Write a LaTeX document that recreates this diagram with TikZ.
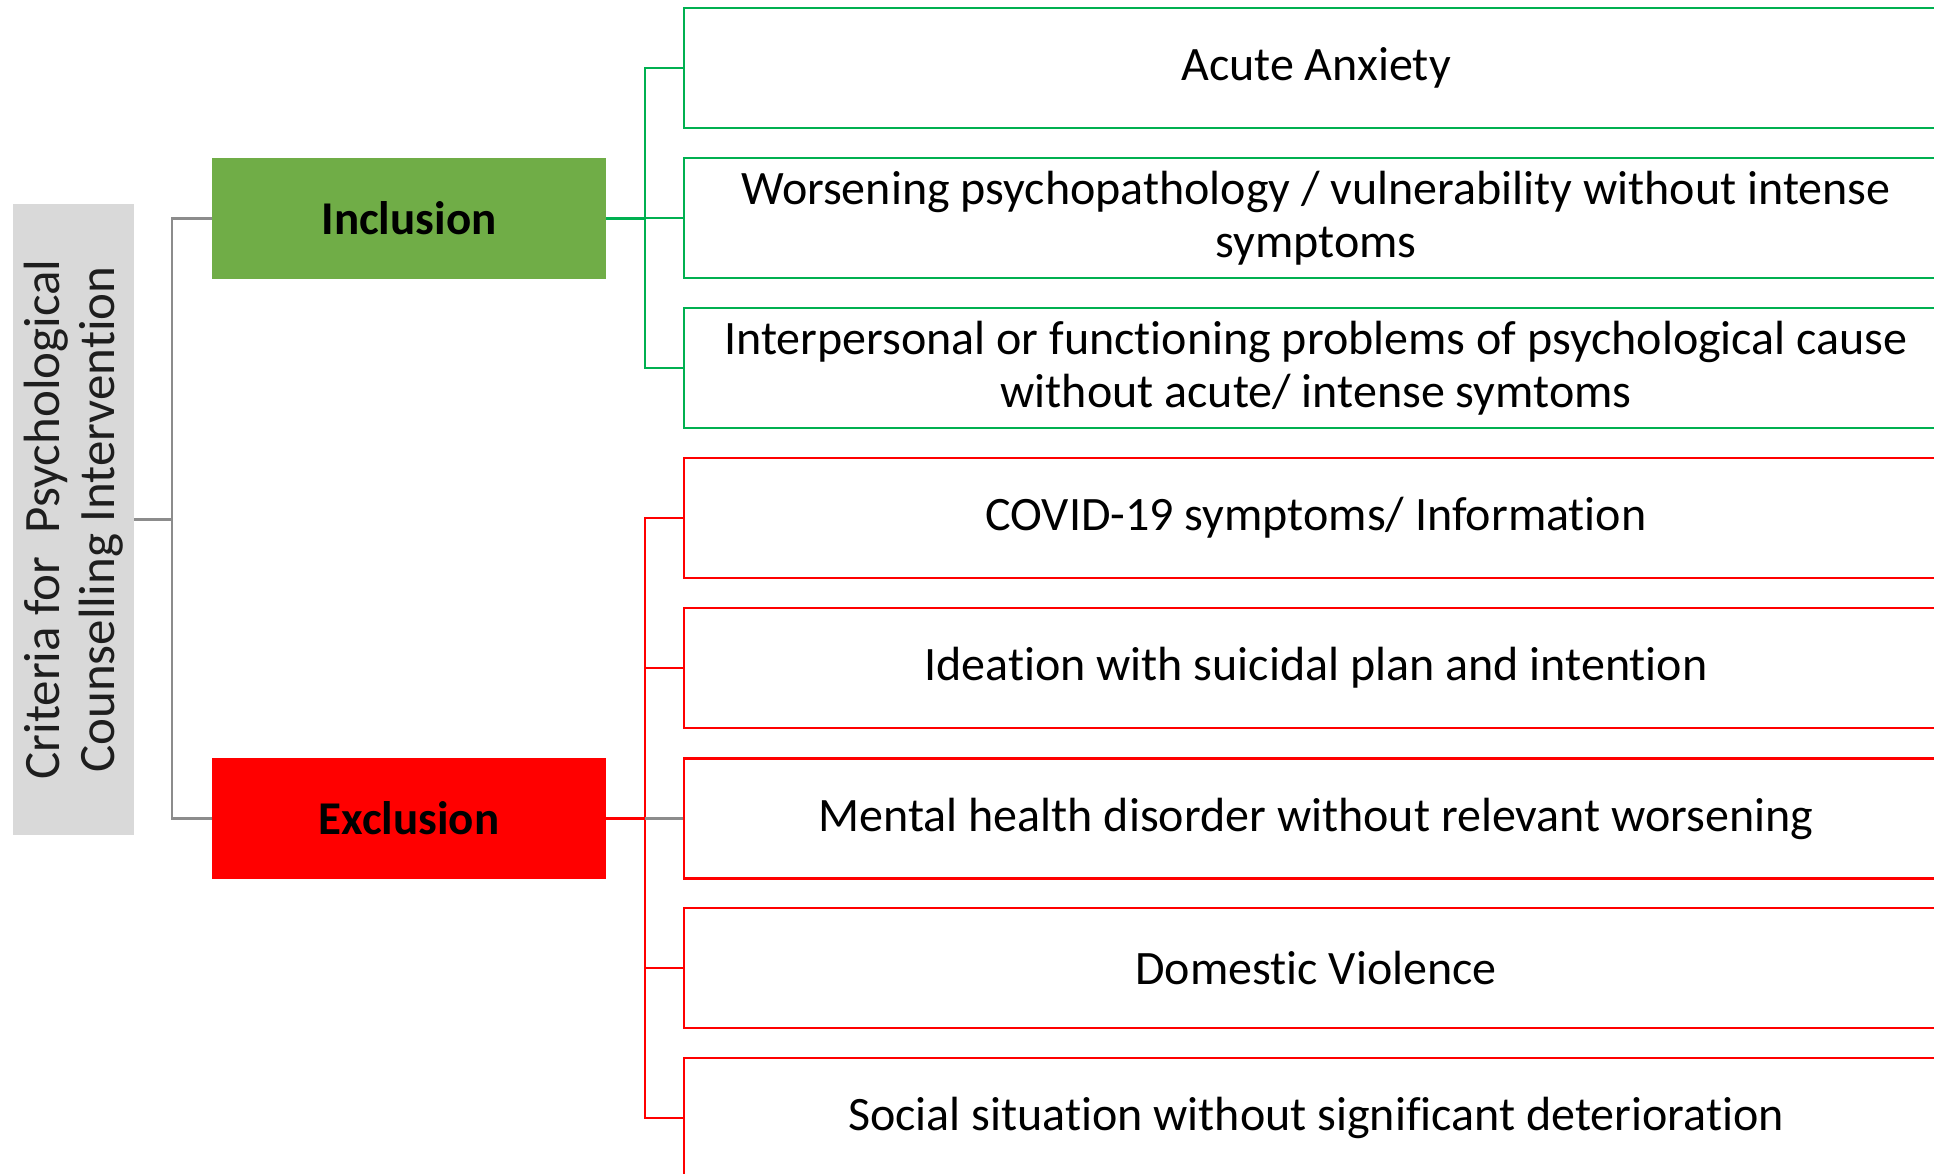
\documentclass[tikz,border=0pt]{standalone}
\usepackage{fontspec}
\setmainfont{Carlito}[Ligatures={NoCommon}]
\definecolor{critgray}{HTML}{D9D9D9}
\definecolor{crittext}{HTML}{1E1E1E}
\definecolor{linegray}{HTML}{8C8C8C}
\definecolor{incfill}{HTML}{70AD47}
\definecolor{incline}{HTML}{00B050}
\definecolor{excred}{HTML}{FF0000}
\begin{document}
\begin{tikzpicture}[x=1pt,y=-1pt,
  crit/.style={rotate=90, fill=critgray, text=crittext, minimum width=631pt, minimum height=121pt,
    align=center, inner sep=0pt, font=\fontsize{51}{55.5}\selectfont},
  catbox/.style={minimum width=394pt, minimum height=121pt, inner sep=0pt,
    font=\fontsize{47}{53}\selectfont\bfseries},
  itembox/.style={draw, line width=2.5pt, minimum width=1264pt, minimum height=120pt, inner sep=0pt,
    align=center, font=\fontsize{48}{53}\selectfont},
  incitem/.style={itembox, draw=incline},
  excitem/.style={itembox, draw=excred},
  grayline/.style={draw=linegray, line width=2.5pt},
  gline/.style={draw=incline, line width=2.5pt},
  rline/.style={draw=excred, line width=2.5pt}]
\useasboundingbox (0,0) rectangle (1934,1173);
\clip (0,0) rectangle (1934,1173);

\node[crit] (crit) at (73.5,519.5) {Criteria for\ \ Psychological\\Counselling Intervention};
\node[catbox, fill=incfill] (inc) at (409,218.5) {Inclusion};
\node[catbox, fill=excred] (exc) at (409,818.5) {Exclusion};

\node[incitem] (g1) at (1316,68) {Acute Anxiety};
\node[incitem] (g2) at (1316,218) {Worsening psychopathology / vulnerability without intense\\symptoms};
\node[incitem] (g3) at (1316,368) {Interpersonal or functioning problems of psychological cause\\without acute/ intense symtoms};

\node[excitem] (r1) at (1316,518) {COVID-19 symptoms/ Information};
\node[excitem] (r2) at (1316,668) {Ideation with suicidal plan and intention};
\node[excitem] (r3) at (1316,818.5) {Mental health disorder without relevant worsening};
\node[excitem] (r4) at (1316,968) {Domestic Violence};
\node[excitem] (r5) at (1316,1118) {Social situation without significant deterioration};

% root connectors
\path (crit.south) ++(38,0) coordinate (cj);
\draw[grayline] (crit.south) -- (cj);
\draw[grayline] (cj) |- (inc.west);
\draw[grayline] (cj) |- (exc.west);

% inclusion connectors
\path (inc.east) ++(39,0) coordinate (ij);
\draw[gline] (inc.east) -- (ij);
\draw[gline] (ij) |- (g1.west);
\draw[gline] (ij) |- (g2.west);
\draw[gline] (ij) |- (g3.west);

% exclusion connectors
\path (exc.east) ++(39,0) coordinate (ej);
\draw[rline] (exc.east) -- (ej);
\draw[rline] (ej) |- (r1.west);
\draw[rline] (ej) |- (r2.west);
\draw[rline] (ej) |- (r4.west);
\draw[rline] (ej) |- (r5.west);
\draw[grayline] (ej) -- (r3.west);
\end{tikzpicture}
\end{document}
